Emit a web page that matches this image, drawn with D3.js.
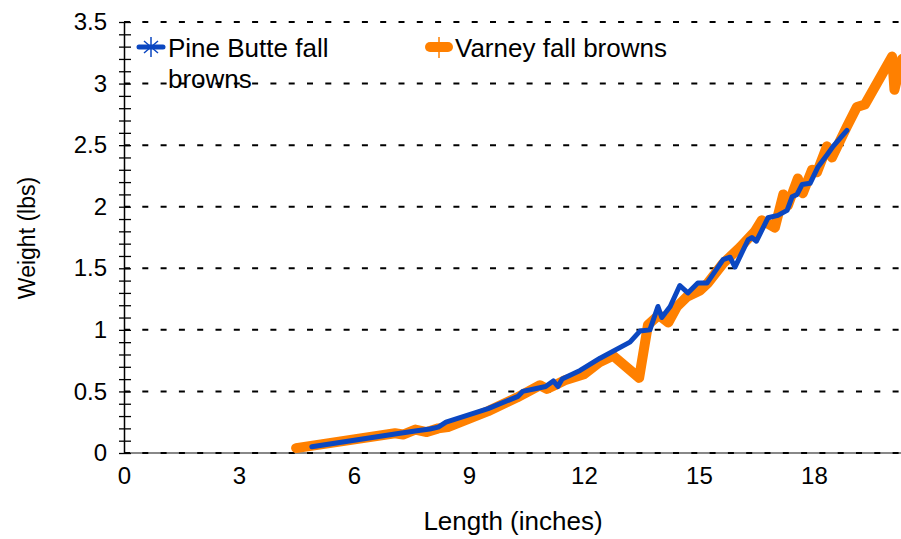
<!DOCTYPE html>
<html>
<head>
<meta charset="utf-8">
<script src="https://cdn.jsdelivr.net/npm/d3@7"></script>
<style>
  body { margin: 0; background: #fff; }
  svg text { font-family: "Liberation Sans", Arial, sans-serif; fill: #000; }
</style>
</head>
<body>
<svg class="s1" width="901" height="539"></svg>
<script>
// length (inches) / weight (lbs)
var pineLength = [4.9, 7.2, 7.64, 7.98, 8.2, 8.4, 9.5, 10.28, 10.4, 10.85, 11.0, 11.2, 11.32, 11.43, 11.9, 12.42, 13.2, 13.46, 13.72, 13.93, 14.03, 14.25, 14.5, 14.71, 14.97, 15.21, 15.63, 15.81, 15.94, 16.28, 16.38, 16.5, 16.8, 17.06, 17.3, 17.43, 17.56, 17.69, 17.9, 18.1, 18.34, 18.5, 18.86];
var pineWeight = [0.05, 0.16, 0.18, 0.195, 0.21, 0.25, 0.36, 0.46, 0.5, 0.53, 0.54, 0.585, 0.54, 0.6, 0.67, 0.77, 0.9, 0.99, 1.0, 1.19, 1.1, 1.19, 1.36, 1.3, 1.38, 1.38, 1.57, 1.59, 1.51, 1.73, 1.75, 1.72, 1.91, 1.93, 1.97, 2.08, 2.1, 2.18, 2.19, 2.32, 2.42, 2.49, 2.62];

var varneyLength = [4.49, 7.07, 7.28, 7.6, 7.9, 8.2, 8.45, 9.5, 10.25, 10.85, 11.03, 11.24, 11.5, 12.0, 12.42, 12.76, 13.44, 13.67, 13.95, 14.2, 14.43, 14.69, 15.03, 15.23, 15.63, 16.07, 16.46, 16.64, 16.98, 17.2, 17.32, 17.58, 17.71, 17.95, 18.08, 18.34, 18.47, 18.86, 19.12, 19.33, 20.04, 20.1, 20.3];
var varneyWeight = [0.04, 0.16, 0.15, 0.19, 0.17, 0.2, 0.21, 0.34, 0.45, 0.55, 0.52, 0.55, 0.59, 0.64, 0.74, 0.79, 0.61, 1.04, 1.12, 1.06, 1.19, 1.27, 1.32, 1.38, 1.54, 1.67, 1.8, 1.89, 1.83, 2.1, 2.01, 2.23, 2.11, 2.3, 2.28, 2.49, 2.4, 2.65, 2.81, 2.83, 3.22, 2.95, 3.2];

var seriesNames = ["Pine Butte fall browns", "Varney fall browns"];
var xTicks = [0, 3, 6, 9, 12, 15, 18];
var yTicks = [0, 0.5, 1, 1.5, 2, 2.5, 3, 3.5];

var blue = "#0b47c1", orange = "#ff8000";

var svg = d3.select("svg.s1"),
	plotLeft = 124, plotTop = 22, plotBottom = 453;

var x = d3.scaleLinear().domain([0, 21]).range([plotLeft, plotLeft + 21 * 38.33]);
var y = d3.scaleLinear().domain([0, 3.5]).range([plotBottom, plotTop]);

var line = d3.line()
	.x(function(d) { return x(d.len); })
	.y(function(d) { return y(d.wt); });

function zipSeries(lens, wts) {
	return lens.map(function(l, i) { return {len: l, wt: wts[i]}; });
}

// x axis: grey line, labels only
var xAxis = svg.append("g")
	.attr("transform", "translate(0," + plotBottom + ")")
	.call(d3.axisBottom(x).tickValues(xTicks).tickSize(0).tickPadding(14));
xAxis.select(".domain").attr("stroke", "#888").attr("stroke-width", 2).attr("d", "M" + plotLeft + ",0H901");
xAxis.selectAll("text").style("font-size", "24px").attr("dy", "0.72em");

// dashed grid lines
svg.append("g").selectAll("line")
	.data(yTicks).enter().append("line")
	.attr("x1", plotLeft).attr("x2", 901)
	.attr("y1", function(d) { return y(d); })
	.attr("y2", function(d) { return y(d); })
	.attr("stroke", "#000")
	.attr("stroke-width", 2)
	.attr("stroke-dasharray", "6,12.3");

// y axis with crossing ticks every 0.1
var yMinor = svg.append("g")
	.attr("transform", "translate(" + plotLeft + ",0)")
	.call(d3.axisLeft(y).tickValues(d3.range(0, 36).map(function(i) { return i / 10; })).tickFormat("").tickSizeOuter(0));
yMinor.select(".domain").attr("stroke-width", 1.5);
yMinor.selectAll(".tick line").attr("x1", 7).attr("x2", -5).attr("stroke-width", 1.3);

svg.append("g")
	.attr("transform", "translate(" + plotLeft + ",0)")
	.call(d3.axisLeft(y).tickValues(yTicks).tickSize(0).tickPadding(17).tickFormat(d3.format("")))
	.call(function(g) { g.select(".domain").remove(); })
	.selectAll("text").style("font-size", "24px");

// axis titles
svg.append("text")
	.attr("x", 513).attr("y", 530)
	.attr("text-anchor", "middle")
	.style("font-size", "26px")
	.text("Length (inches)");

svg.append("text")
	.attr("transform", "translate(35,238) rotate(-90)")
	.attr("text-anchor", "middle")
	.style("font-size", "23px")
	.text("Weight (lbs)");

// data lines
svg.append("path")
	.datum(zipSeries(varneyLength, varneyWeight))
	.attr("d", line)
	.attr("fill", "none")
	.attr("stroke", orange)
	.attr("stroke-width", 10)
	.attr("stroke-linejoin", "round")
	.attr("stroke-linecap", "round");

svg.append("path")
	.datum(zipSeries(pineLength, pineWeight))
	.attr("d", line)
	.attr("fill", "none")
	.attr("stroke", blue)
	.attr("stroke-width", 5)
	.attr("stroke-linejoin", "round")
	.attr("stroke-linecap", "round");

// legend
var leg1 = svg.append("g").attr("transform", "translate(151,47)");
leg1.append("line").attr("x1", -12).attr("x2", 12).attr("stroke", blue).attr("stroke-width", 5).attr("stroke-linecap", "round");
leg1.append("path").attr("d", "M0,-10V10M-7,-6L7,6M-7,6L7,-6").attr("stroke", blue).attr("stroke-width", 1.5);
leg1.append("text").attr("x", 17).attr("y", 10).style("font-size", "26px").text("Pine Butte fall");
leg1.append("text").attr("x", 17).attr("y", 41).style("font-size", "26px").text("browns");

var leg2 = svg.append("g").attr("transform", "translate(439,47)");
leg2.append("line").attr("x1", -9).attr("x2", 9).attr("stroke", orange).attr("stroke-width", 10).attr("stroke-linecap", "round");
leg2.append("path").attr("d", "M0,-10V11").attr("stroke", orange).attr("stroke-width", 1.5);
leg2.append("text").attr("x", 16).attr("y", 10).style("font-size", "26px").text(seriesNames[1]);
</script>
</body>
</html>
